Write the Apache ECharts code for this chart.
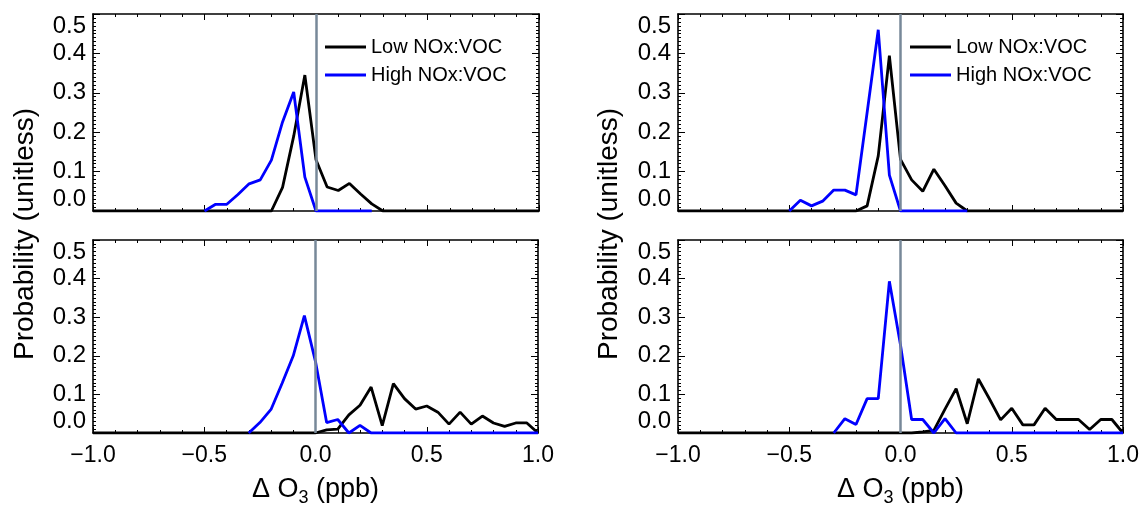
<!DOCTYPE html>
<html>
<head>
<meta charset="utf-8">
<script src="https://cdn.jsdelivr.net/npm/echarts@6/dist/echarts.min.js"></script>
<style>
html,body{margin:0;padding:0;background:#fff;}
#chart{width:1144px;height:508px;}
</style>
</head>
<body>
<div id="chart"></div>
<script>
// Bin centres of ΔO3 (ppb)
const xVals = [-1.0,-0.95,-0.9,-0.85,-0.8,-0.75,-0.7,-0.65,-0.6,-0.55,-0.5,-0.45,-0.4,-0.35,-0.3,-0.25,-0.2,-0.15,-0.1,-0.05,0.0,0.05,0.1,0.15,0.2,0.25,0.3,0.35,0.4,0.45,0.5,0.55,0.6,0.65,0.7,0.75,0.8,0.85,0.9,0.95,1.0];
const seriesNames = ['Low NOx:VOC', 'High NOx:VOC'];
const xTicks = [-1.0, -0.5, 0.0, 0.5, 1.0];
const yTicks = [0.0, 0.1, 0.2, 0.3, 0.4, 0.5];

// Top-left panel
const lowTL  = [0,0,0,0,0,0,0,0,0,0,0,0,0,0,0,0,0,0.06,0.19,0.345,0.13,0.061,0.052,0.07,0.043,0.018,0,0,0,0,0,0,0,0,0,0,0,0,0,0,0];
const highTL = [null,null,null,null,null,null,null,null,null,null,0,0.017,0.017,0.042,0.069,0.079,0.129,0.226,0.302,0.086,0,0,0,0,0,0,null,null,null,null,null,null,null,null,null,null,null,null,null,null,null];
// Bottom-left panel
const lowBL  = [0,0,0,0,0,0,0,0,0,0,0,0,0,0,0,0,0,0,0,0,0,0.008,0.01,0.047,0.072,0.119,0.019,0.128,0.089,0.062,0.07,0.054,0.023,0.054,0.023,0.044,0.026,0.017,0.026,0.026,0];
const highBL = [null,null,null,null,null,null,null,null,null,null,null,null,null,null,0,0.027,0.061,0.129,0.2,0.304,0.185,0.027,0.035,0,0.02,0,0,0,0,0,0,0,0,0,0,0,0,0,0,0,0];
// Top-right panel
const lowTR  = [0,0,0,0,0,0,0,0,0,0,0,0,0,0,0,0,0,0.013,0.14,0.394,0.131,0.079,0.05,0.106,0.064,0.02,0,0,0,0,0,0,0,0,0,0,0,0,0,0,0];
const highTR = [null,null,null,null,null,null,null,null,null,null,0,0.027,0.013,0.025,0.053,0.053,0.041,0.25,0.46,0.091,0,0,0,0,0,0,0,null,null,null,null,null,null,null,null,null,null,null,null,null,null];
// Bottom-right panel
const lowBR  = [0,0,0,0,0,0,0,0,0,0,0,0,0,0,0,0,0,0,0,0,0,0,0.003,0.007,0.062,0.115,0.024,0.14,0.088,0.034,0.064,0.021,0.021,0.064,0.035,0.035,0.035,0.009,0.035,0.035,0];
const highBR = [null,null,null,null,null,null,null,null,null,null,null,null,null,null,0,0.037,0.022,0.089,0.089,0.393,0.228,0.035,0.035,0,0.037,0,0,0,0,0,0,0,0,0,0,0,0,0,0,0,0];

const FONT = "'Liberation Sans', Arial, Helvetica, sans-serif";
const panels = [
  {grid:{left:93, top:14, width:446, height:197}, low:lowTL, high:highTL, labels:false},
  {grid:{left:93, top:240, width:445, height:197}, low:lowBL, high:highBL, labels:true},
  {grid:{left:678, top:14, width:445, height:197}, low:lowTR, high:highTR, labels:false},
  {grid:{left:678, top:240, width:445, height:197}, low:lowBR, high:highBR, labels:true}
];

function pairs(arr){ return xVals.map((x,i)=>[x, arr[i]]); }
const fmtX = v => v.toFixed(1).replace('-', '\u2212');

const grids = [], xAxes = [], yAxes = [], series = [];
const lineCol = '#000';
panels.forEach((p, i) => {
  grids.push(Object.assign({containLabel:false}, p.grid));
  const baseX = {
    type:'value', gridIndex:i, min:xTicks[0], max:xTicks[xTicks.length-1], interval:0.5,
    axisLine:{show:true, onZero:false, lineStyle:{color:lineCol, width:1.6}},
    axisTick:{show:true, inside:true, length:6, lineStyle:{color:lineCol, width:1}},
    minorTick:{show:true, splitNumber:5, length:3, lineStyle:{color:lineCol, width:1}},
    splitLine:{show:false}, minorSplitLine:{show:false}
  };
  xAxes.push(Object.assign({}, baseX, {
    position:'bottom',
    axisLabel:{show:p.labels, color:'#000', fontSize:23, fontFamily:FONT, margin:11,
      showMinLabel:true, showMaxLabel:true, formatter:fmtX},
    name: p.labels ? '{a|\u0394 O}{s|3}{a| (ppb)}' : '',
    nameLocation:'middle', nameGap:40,
    nameTextStyle:{color:'#000', fontFamily:FONT, fontSize:27,
      rich:{a:{fontSize:27, fontFamily:FONT, color:'#000'}, s:{fontSize:18, fontFamily:FONT, color:'#000', padding:[16,0,0,0]}}}
  }));
  xAxes.push(Object.assign({}, baseX, {position:'top', axisLabel:{show:false}}));
  const baseY = {
    type:'value', gridIndex:i, min:yTicks[0], max:yTicks[yTicks.length-1], interval:0.1,
    axisLine:{show:true, onZero:false, lineStyle:{color:lineCol, width:1.6}},
    axisTick:{show:true, inside:true, length:7, lineStyle:{color:lineCol, width:1}},
    minorTick:{show:true, splitNumber:10, length:3, lineStyle:{color:lineCol, width:1}},
    splitLine:{show:false}, minorSplitLine:{show:false}
  };
  yAxes.push(Object.assign({}, baseY, {
    position:'left',
    axisLabel:{show:true, color:'#000', fontSize:24, fontFamily:FONT, margin:7,
      showMinLabel:true, showMaxLabel:true,
      verticalAlignMinLabel:'bottom', verticalAlignMaxLabel:'top',
      formatter: v => v.toFixed(1)}
  }));
  yAxes.push(Object.assign({}, baseY, {position:'right', axisLabel:{show:false}}));

  series.push({
    name:seriesNames[0], type:'line', xAxisIndex:2*i, yAxisIndex:2*i,
    data:pairs(p.low), symbol:'none', showSymbol:false,
    lineStyle:{color:'#000', width:2.8}, itemStyle:{color:'#000'},
    animation:false, z:2,
    markLine:{silent:true, symbol:['none','none'], label:{show:false},
      lineStyle:{color:'#778899', width:2.5, type:'solid'},
      data:[{xAxis:0}], animation:false}
  });
  series.push({
    name:seriesNames[1], type:'line', xAxisIndex:2*i, yAxisIndex:2*i,
    data:pairs(p.high), symbol:'none', showSymbol:false, connectNulls:false,
    lineStyle:{color:'#0000ff', width:2.8}, itemStyle:{color:'#0000ff'},
    animation:false, z:3
  });
});

const legendBase = {
  orient:'vertical', padding:0, itemWidth:41, itemHeight:20, itemGap:8,
  icon:'path://M0,8.5 L41,8.5 L41,11.5 L0,11.5 Z',
  textStyle:{color:'#000', fontSize:20, fontFamily:FONT, lineHeight:20},
  data:seriesNames, selectedMode:false
};

const option = {
  backgroundColor:'#fff',
  animation:false,
  grid:grids, xAxis:xAxes, yAxis:yAxes, series:series,
  legend:[
    Object.assign({}, legendBase, {left:325, top:37}),
    Object.assign({}, legendBase, {left:910, top:37})
  ],
  graphic:[
    {type:'text', x:25, y:234, rotation:Math.PI/2,
      style:{text:'Probability (unitless)', font:'28px ' + FONT, fill:'#000', textAlign:'center', textVerticalAlign:'middle'}},
    {type:'text', x:609, y:234, rotation:Math.PI/2,
      style:{text:'Probability (unitless)', font:'28px ' + FONT, fill:'#000', textAlign:'center', textVerticalAlign:'middle'}}
  ]
};

const chart = echarts.init(document.getElementById('chart'), null, {renderer:'canvas'});
chart.setOption(option);
</script>
</body>
</html>
